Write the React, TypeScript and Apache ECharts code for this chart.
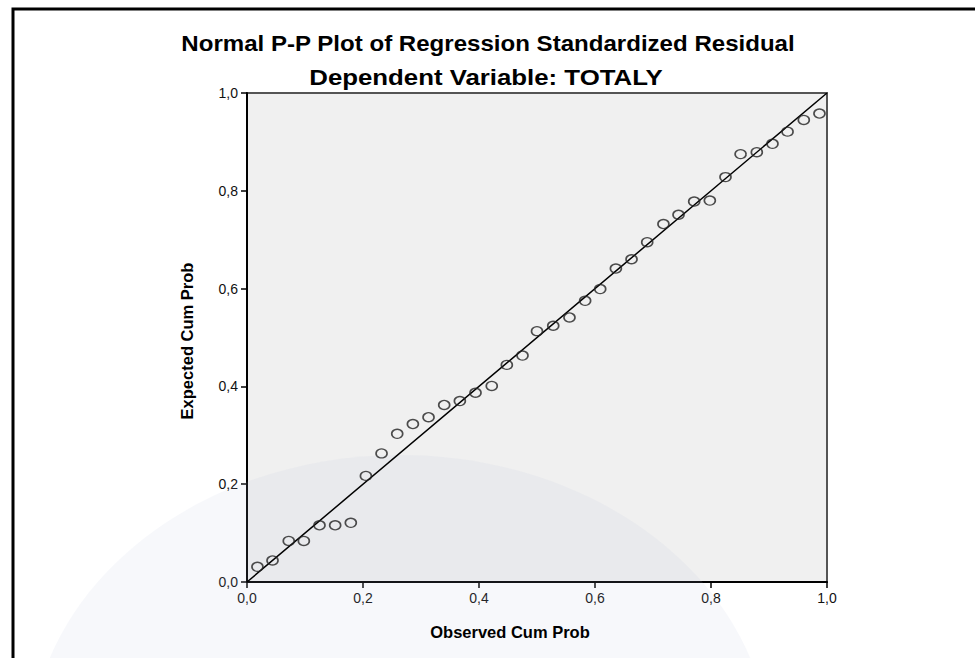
import React, { useEffect, useRef } from "react";
import * as echarts from "echarts";

const observed = [
  0.018, 0.044, 0.072, 0.098, 0.125, 0.152, 0.179, 0.205, 0.232, 0.259,
  0.286, 0.313, 0.340, 0.367, 0.394, 0.422, 0.448, 0.475, 0.500, 0.528,
  0.556, 0.583, 0.609, 0.636, 0.663, 0.690, 0.718, 0.744, 0.771, 0.798,
  0.825, 0.851, 0.879, 0.906, 0.932, 0.960, 0.987,
];
const expected = [
  0.031, 0.044, 0.084, 0.084, 0.116, 0.116, 0.121, 0.217, 0.263, 0.303,
  0.323, 0.337, 0.362, 0.370, 0.387, 0.401, 0.444, 0.463, 0.513, 0.524,
  0.541, 0.575, 0.599, 0.641, 0.660, 0.695, 0.732, 0.751, 0.778, 0.780,
  0.828, 0.875, 0.879, 0.896, 0.921, 0.945, 0.958,
];
const referenceLine = [
  [0, 0],
  [1, 1],
];
const titleText = "Normal P-P Plot of Regression Standardized Residual";
const subtitleText = "Dependent Variable: TOTALY";
const xName = "Observed Cum Prob";
const yName = "Expected Cum Prob";

const FONT = "Liberation Sans, Arial, sans-serif";

export default function App() {
  const ref = useRef<HTMLDivElement>(null);
  useEffect(() => {
    if (!ref.current) return;
    const chart = echarts.init(ref.current, null, { renderer: "svg" });
    const fmt = (v: number) => v.toFixed(1).replace(".", ",");
    const axisLabelFont = {
      color: "#111",
      fontFamily: FONT,
      fontSize: 14,
    };
    chart.setOption({
      animation: false,
      backgroundColor: "#ffffff",
      graphic: [
        {
          type: "ellipse",
          z: 1,
          silent: true,
          shape: { cx: 400, cy: 755, rx: 370, ry: 300 },
          style: { fill: "rgba(185,192,215,0.11)" },
        },
        {
          type: "rect",
          z: 10,
          silent: true,
          shape: { x: 13, y: 9, width: 1000, height: 700 },
          style: { fill: "none", stroke: "#000", lineWidth: 3 },
        },
        {
          type: "text",
          z: 10,
          x: 488,
          y: 43,
          scaleX: 1.12,
          style: {
            text: titleText,
            fill: "#000",
            fontFamily: FONT,
            fontWeight: "bold",
            fontSize: 21.5,
            align: "center",
            verticalAlign: "middle",
          },
        },
        {
          type: "text",
          z: 10,
          x: 486,
          y: 78,
          scaleX: 1.2,
          style: {
            text: subtitleText,
            fill: "#000",
            fontFamily: FONT,
            fontWeight: "bold",
            fontSize: 21.5,
            align: "center",
            verticalAlign: "middle",
          },
        },
        {
          type: "text",
          z: 10,
          x: 510,
          y: 632,
          style: {
            text: xName,
            fill: "#000",
            fontFamily: FONT,
            fontWeight: "bold",
            fontSize: 16.5,
            align: "center",
            verticalAlign: "middle",
          },
        },
        {
          type: "text",
          z: 10,
          x: 187,
          y: 341,
          rotation: Math.PI / 2,
          style: {
            text: yName,
            fill: "#000",
            fontFamily: FONT,
            fontWeight: "bold",
            fontSize: 16.5,
            align: "center",
            verticalAlign: "middle",
          },
        },
      ],
      grid: {
        left: 247,
        right: 148,
        top: 93,
        bottom: 76,
        show: true,
        backgroundColor: "#f0f0f0",
        borderColor: "#555",
        borderWidth: 2,
      },
      xAxis: {
        type: "value",
        min: 0,
        max: 1,
        interval: 0.2,
        splitLine: { show: false },
        axisLine: { show: true, lineStyle: { color: "#000", width: 2 } },
        axisTick: { show: true, length: 6, lineStyle: { color: "#000", width: 1.5 } },
        axisLabel: { ...axisLabelFont, margin: 9, formatter: fmt },
      },
      yAxis: {
        type: "value",
        min: 0,
        max: 1,
        interval: 0.2,
        splitLine: { show: false },
        axisLine: { show: true, lineStyle: { color: "#000", width: 2 } },
        axisTick: { show: true, length: 6, lineStyle: { color: "#000", width: 1.5 } },
        axisLabel: { ...axisLabelFont, margin: 9, formatter: fmt },
      },
      series: [
        {
          type: "line",
          z: 3,
          data: referenceLine,
          symbol: "none",
          silent: true,
          lineStyle: { color: "#000", width: 1.5 },
        },
        {
          type: "scatter",
          z: 4,
          data: observed.map((x, i) => [x, expected[i]]),
          symbol: "circle",
          symbolSize: [11, 9],
          itemStyle: { color: "rgba(0,0,0,0)", borderColor: "#222", borderWidth: 1.5 },
        },
      ],
    });
    return () => chart.dispose();
  }, []);
  return (
    <div
      ref={ref}
      style={{ position: "fixed", left: 0, top: 0, width: 975, height: 658 }}
    />
  );
}
